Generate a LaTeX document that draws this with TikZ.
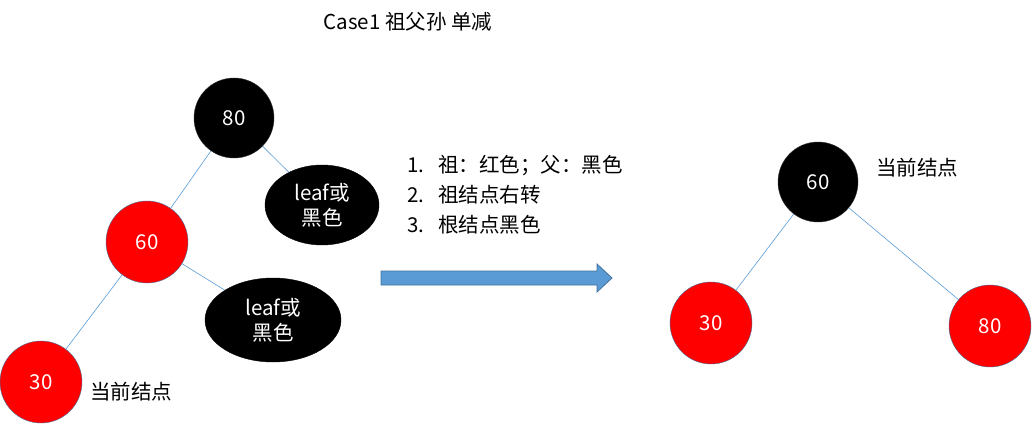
\documentclass[tikz,border=0pt]{standalone}
\usepackage{fontspec}
\setmainfont{Noto Sans CJK SC}
\usetikzlibrary{shapes.geometric}
\definecolor{arrfill}{HTML}{5B9BD5}
\definecolor{arrline}{HTML}{41719C}
\definecolor{edgec}{HTML}{5B9BD5}
\begin{document}
\begin{tikzpicture}[x=1pt,y=-1pt,font=\fontsize{20.5}{25}\selectfont,
  blk/.style={circle,fill=black,draw=black!80,minimum size=80pt,inner sep=0pt,text=white},
  red/.style={circle,fill=red,draw=arrline,minimum size=82pt,inner sep=0pt,text=white},
  leaf/.style={ellipse,fill=black,draw=black,inner sep=0pt,text=white,align=center},
  edge/.style={draw=edgec,line width=0.6pt}]
\useasboundingbox (0,0) rectangle (1032,425);
\node at (408,22) {Case1 祖父孙 单减};
\node[blk] (a80) at (234,118) {80};
\node[leaf,minimum width=114pt,minimum height=80pt] (l1) at (322,205) {leaf或\\黑色};
\node[red] (a60) at (147,242) {60};
\node[leaf,minimum width=136pt,minimum height=84pt] (l2) at (273,320) {leaf或\\黑色};
\node[red] (a30) at (41,382) {30};
\node (c1) at (131,392) {当前结点};
\draw[edge] (a80) -- (l1);
\draw[edge] (a80) -- (a60);
\draw[edge] (a60) -- (l2);
\draw[edge] (a60) -- (a30);
\node[anchor=west,align=left,font=\fontsize{20.5}{30}\selectfont] (lst) at (404,195) {1.\ \ \ 祖：红色；父：黑色\\2.\ \ \ 祖结点右转\\3.\ \ \ 根结点黑色};
\draw[fill=arrfill,draw=arrline,line width=0.8pt] (381,271) -- (597,271) -- (597,264) -- (612,278) -- (597,292) -- (597,285) -- (381,285) -- cycle;
\node[blk] (b60) at (818,182) {60};
\node (c2) at (917,168) {当前结点};
\node[red] (b30) at (711,323) {30};
\node[red] (b80) at (990,326) {80};
\draw[edge] (b60) -- (b30);
\draw[edge] (b60) -- (b80);
\end{tikzpicture}
\end{document}
